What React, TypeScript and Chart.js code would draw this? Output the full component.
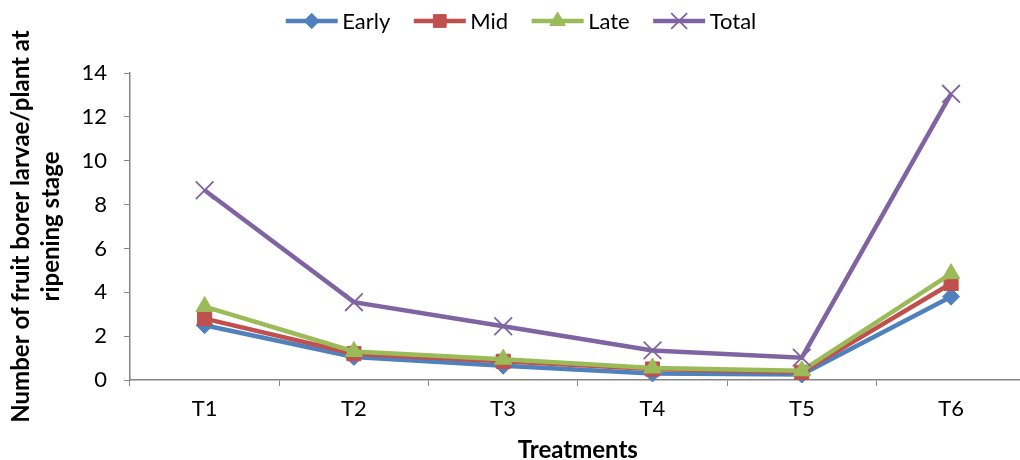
import { useEffect, useRef } from "react";
import { Chart, registerables } from "chart.js";
import { drawPoint } from "chart.js/helpers";

Chart.register(...registerables);

// Treatments on the x axis
const treatments = ["T1", "T2", "T3", "T4", "T5", "T6"];

// Larvae per plant at ripening stage, by infestation period
const early = [2.5, 1.05, 0.65, 0.3, 0.25, 3.8];
const mid = [2.8, 1.2, 0.85, 0.5, 0.35, 4.4];
const late = [3.35, 1.3, 0.95, 0.55, 0.42, 4.85];
const total = [8.65, 3.55, 2.45, 1.35, 1.02, 13.05];

const seriesNames = ["Early", "Mid", "Late", "Total"];
const seriesColors = ["#4F81BD", "#C0504D", "#9BBB59", "#8064A2"];
const seriesMarkers = ["rectRot", "rect", "triangle", "crossRot"];

const yMin = 0;
const yMax = 14;
const yStep = 2;

const yTitleLines = ["Number of fruit borer larvae/plant at", "ripening stage"];
const xTitle = "Treatments";

const FONT = "Lato, 'Open Sans', sans-serif";
const AXIS_GRAY = "#868686";

const markerRadius: Record<string, number> = {
  rectRot: 8.5,
  rect: 10,
  triangle: 10,
  crossRot: 12.5,
};

// Draws the legend row and both axis titles
const decorations = {
  id: "decorations",
  afterDraw(chart: any) {
    const { ctx, chartArea } = chart;
    ctx.save();

    // legend
    ctx.font = `22px ${FONT}`;
    const lineLen = 52;
    const textGap = 4.5;
    const itemGap = 23.5;
    const widths = seriesNames.map((n) => ctx.measureText(n).width);
    const totalW =
      widths.reduce((a, b) => a + b, 0) +
      seriesNames.length * (lineLen + textGap) +
      (seriesNames.length - 1) * itemGap;
    let x = 521 - totalW / 2;
    const ly = 21;
    seriesNames.forEach((name, i) => {
      ctx.strokeStyle = seriesColors[i];
      ctx.lineWidth = 4.5;
      ctx.lineCap = "butt";
      ctx.beginPath();
      ctx.moveTo(x, ly);
      ctx.lineTo(x + lineLen, ly);
      ctx.stroke();
      ctx.fillStyle = seriesColors[i];
      ctx.strokeStyle = seriesColors[i];
      ctx.lineWidth = seriesMarkers[i] === "crossRot" ? 1.8 : 1;
      drawPoint(
        ctx,
        {
          pointStyle: seriesMarkers[i],
          radius: markerRadius[seriesMarkers[i]] * 0.9,
          rotation: 0,
          borderWidth: ctx.lineWidth,
        },
        x + lineLen / 2,
        ly
      );
      ctx.fillStyle = "#000";
      ctx.textAlign = "left";
      ctx.textBaseline = "middle";
      ctx.fillText(name, x + lineLen + textGap, ly + 1);
      x += lineLen + textGap + widths[i] + itemGap;
    });

    // axis titles
    ctx.fillStyle = "#000";
    ctx.font = `bold 24px ${FONT}`;
    ctx.textAlign = "center";
    ctx.textBaseline = "middle";
    ctx.fillText(xTitle, (chartArea.left + chartArea.right) / 2, 450);

    const midY = (chartArea.top + chartArea.bottom) / 2;
    const lineXs = [21, 51];
    yTitleLines.forEach((line, i) => {
      ctx.save();
      ctx.translate(lineXs[i], midY);
      ctx.rotate(-Math.PI / 2);
      ctx.fillText(line, 0, 0);
      ctx.restore();
    });

    ctx.restore();
  },
};

export default function App() {
  const canvasRef = useRef<HTMLCanvasElement | null>(null);

  useEffect(() => {
    document.body.style.overflow = "hidden";
    const canvas = canvasRef.current;
    if (!canvas) return;

    const seriesData = [early, mid, late, total];
    const chart = new Chart(canvas, {
      type: "line",
      data: {
        labels: treatments,
        datasets: seriesNames.map((name, i) => ({
          label: name,
          data: seriesData[i],
          borderColor: seriesColors[i],
          backgroundColor: seriesColors[i],
          borderWidth: 4.5,
          pointStyle: seriesMarkers[i] as any,
          pointRadius: markerRadius[seriesMarkers[i]],
          pointBackgroundColor: seriesColors[i],
          pointBorderColor: seriesColors[i],
          pointBorderWidth: seriesMarkers[i] === "crossRot" ? 1.8 : 1,
          tension: 0,
          fill: false,
          clip: false as any,
          order: seriesNames.length - 1 - i,
        })),
      },
      options: {
        responsive: false,
        animation: false,
        layout: { padding: { top: 73, left: 0, right: 13, bottom: 0 } },
        plugins: {
          legend: { display: false },
          tooltip: { enabled: false },
        },
        scales: {
          x: {
            offset: true,
            grid: {
              offset: true,
              drawOnChartArea: false,
              drawTicks: true,
              tickLength: 6,
              color: AXIS_GRAY,
            },
            border: { display: true, color: AXIS_GRAY, width: 1.5 },
            ticks: {
              color: "#000",
              font: { family: FONT, size: 22 },
              padding: 10,
              maxRotation: 0,
            },
            afterFit: (scale: any) => {
              scale.height = 80;
            },
          },
          y: {
            min: yMin,
            max: yMax,
            grid: {
              drawOnChartArea: false,
              drawTicks: true,
              tickLength: 6,
              color: AXIS_GRAY,
            },
            border: { display: true, color: AXIS_GRAY, width: 1.5 },
            ticks: {
              stepSize: yStep,
              color: "#000",
              font: { family: FONT, size: 22 },
              padding: 17,
            },
            afterFit: (scale: any) => {
              scale.width = 130;
            },
          },
        },
      },
      plugins: [decorations],
    });

    return () => chart.destroy();
  }, []);

  return (
    <div
      style={{
        position: "fixed",
        left: 0,
        top: 0,
        width: 1040,
        height: 460,
        background: "#fff",
      }}
    >
      <canvas
        ref={canvasRef}
        width={1040}
        height={460}
        style={{ width: 1040, height: 460, display: "block" }}
      />
    </div>
  );
}
